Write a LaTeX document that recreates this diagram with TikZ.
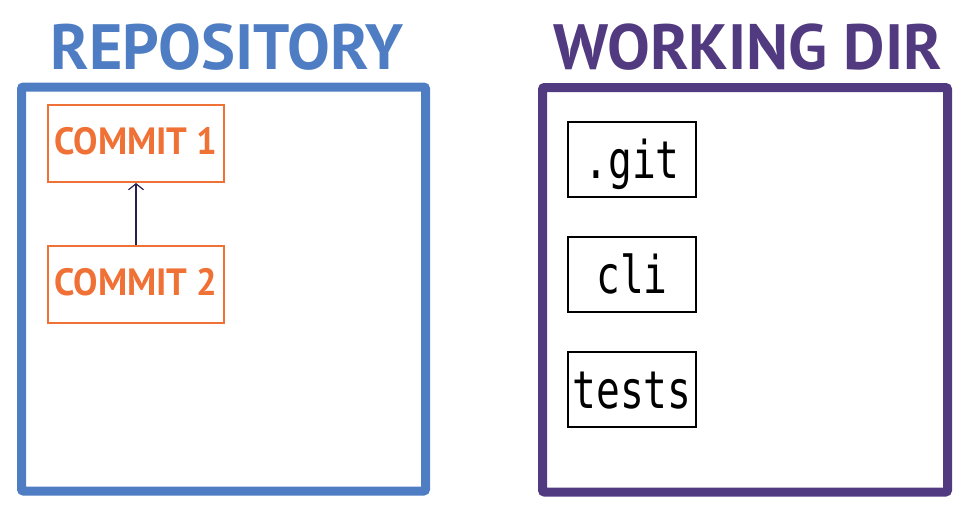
\documentclass[tikz,border=0pt]{standalone}
\usepackage{fontspec}
\usetikzlibrary{arrows.meta}
\setmainfont{PT Sans}
\setmonofont{DejaVu Sans Mono}
\definecolor{repoblue}{HTML}{4E7DC3}
\definecolor{dirpurple}{HTML}{523A80}
\definecolor{commitorange}{HTML}{F07136}
\definecolor{linknavy}{HTML}{2A2050}
\tikzset{
  title/.style={font=\bfseries\fontsize{64}{64}\selectfont, inner sep=0pt, text depth=0pt},
  commit/.style={draw=commitorange, line width=2pt, text=commitorange,
    minimum width=176pt, minimum height=77pt, inner sep=0pt,
    text height=27pt, text depth=6pt, font=\bfseries\fontsize{38}{38}\selectfont},
  file/.style={draw=black, line width=2pt,
    minimum width=128pt, minimum height=75pt, inner sep=0pt,
    text height=40pt, text depth=2pt, font=\ttfamily\fontsize{52}{52}\selectfont},
}
\begin{document}
\begin{tikzpicture}[x=1pt, y=-1pt]
    \useasboundingbox (0,0) rectangle (969,507);

    % repository
    \begin{scope}
     \draw[repoblue, line width=9pt, rounded corners=2pt] (21.5,87) rectangle (425.5,491);
     \node[title, text=repoblue] (repotitle) at (227,47) {REPOSITORY};

     \node[commit] (commitone) at (136,143.5) {\scalebox{0.96}[1]{COMMIT 1}};
     \node[commit] (committwo) at (136,284.5) {\scalebox{0.96}[1]{COMMIT 2}};
     \draw[-{Straight Barb[length=6pt,width=15pt]}, line width=1.2pt, color=linknavy] (committwo) -- (commitone);
    \end{scope}

    % working dir
    \begin{scope}
     \draw[dirpurple, line width=9pt, rounded corners=2pt] (542.5,87.5) rectangle (947.5,492);
     \node[title, text=dirpurple] (dirtitle) at (748,47) {WORKING DIR};

     \foreach \name/\label [count=\i from 0] in {git/.git, cli/cli, tests/tests}{
       \node[file] (\name) at (632,159.5+115*\i) {\scalebox{0.76}[1]{\label}};
     }
    \end{scope}
\end{tikzpicture}
\end{document}
